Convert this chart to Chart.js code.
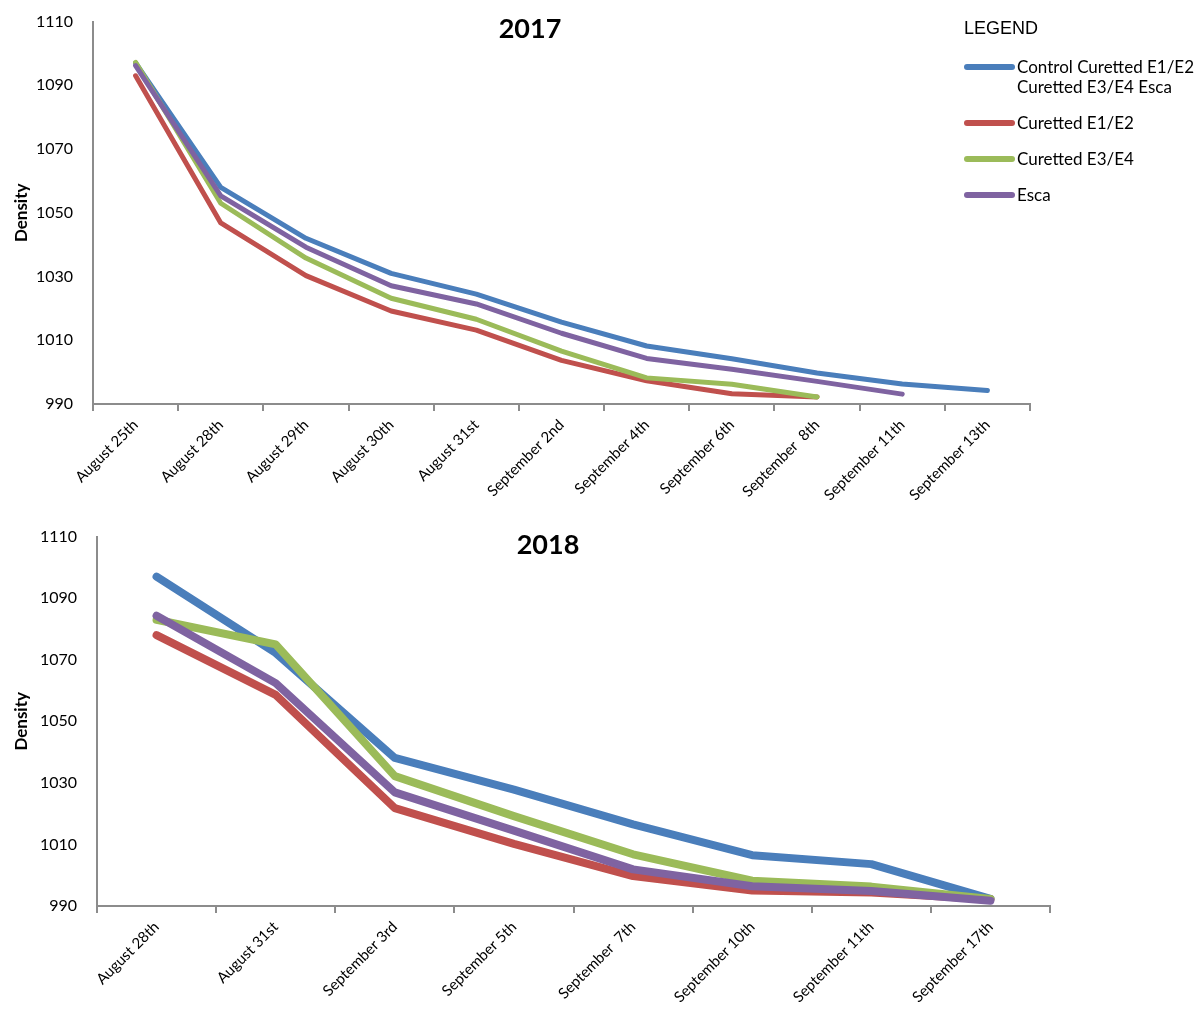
<!DOCTYPE html>
<html>
<head>
<meta charset="utf-8">
<script src="https://cdn.jsdelivr.net/npm/chart.js@4"></script>
<style>
  body { margin: 0; background: #fff; width: 1203px; height: 1012px; position: relative; overflow: hidden; }
  canvas { position: absolute; left: 0; }
  #chart2017 { top: 0; }
  #chart2018 { top: 515px; }
  #legend { position: absolute; left: 964px; top: 18px; font-family: Lato, "Open Sans", sans-serif; font-size: 17px; color: #000; }
  #legend .head { font-family: "Liberation Sans", Arial, sans-serif; font-size: 18px; line-height: 21px; margin-bottom: 18px; }
  #legend .item { display: flex; align-items: flex-start; margin-bottom: 16px; }
  #legend .swatch { width: 51px; height: 6px; border-radius: 3px; margin-top: 7px; margin-right: 2px; flex: none; }
  #legend .txt { line-height: 20px; width: 185px; }
</style>
</head>
<body>
<canvas id="chart2017" width="1050" height="510"></canvas>
<canvas id="chart2018" width="1070" height="497"></canvas>
<div id="legend"></div>
<script>
// categories
const dates2017 = ["August 25th", "August 28th", "August 29th", "August 30th", "August 31st",
    "September 2nd", "September 4th", "September 6th", "September  8th", "September 11th", "September 13th"]
const dates2018 = ["August 28th", "August 31st", "September 3rd", "September 5th", "September  7th",
    "September 10th", "September 11th", "September 17th"]

// series names (legend)
const seriesNames = ["Control Curetted E1/E2 Curetted E3/E4 Esca", "Curetted E1/E2", "Curetted E3/E4", "Esca"]
const seriesColors = ["#4a7ebb", "#c0504d", "#9bbb59", "#7f63a1"]

// 2017 values
const control2017 = [1097, 1058, 1042, 1031, 1024.5, 1015.7, 1008.2, 1004.2, 999.7, 996.3, 994.2]
const cur12_2017 = [1093, 1046.8, 1030.3, 1019.2, 1013.2, 1003.7, 997.3, 993.2, 992.2, null, null]
const cur34_2017 = [1097.2, 1053, 1035.8, 1023.2, 1016.6, 1006.6, 998.2, 996.2, 992.2, null, null]
const esca2017 = [1096.2, 1055.3, 1039.2, 1027.1, 1021.4, 1012.2, 1004.3, 1000.9, 997.1, 993.1, null]

// 2018 values
const control2018 = [1097, 1072.2, 1038.1, 1027.8, 1016.5, 1006.5, 1003.6, 992.3]
const cur12_2018 = [1078, 1058.6, 1021.8, 1010.2, 999.7, 995, 994.4, 992.2]
const cur34_2018 = [1083, 1075, 1032.2, 1019.2, 1006.8, 998.2, 996.3, 992.3]
const esca2018 = [1084.3, 1062.4, 1026.9, 1014.5, 1001.9, 996.4, 994.9, 991.7]

// y axis ticks
const yMin = 990
const yMax = 1110
const yStep = 20

const fontFamily = "Lato, 'Open Sans', sans-serif"

// draws the year title inside the plot area
const yearTitle = {
    id: 'yearTitle',
    afterDraw(chart, args, opts) {
        let ctx = chart.ctx
        ctx.save()
        ctx.font = "bold 27px " + fontFamily
        ctx.fillStyle = "#000"
        ctx.textAlign = "center"
        ctx.textBaseline = "middle"
        ctx.fillText(opts.text, opts.x, opts.y)
        ctx.restore()
    }
}

function make_chart(canvas_id, labels, values, lineWidth, box, title) {
    let canvas = document.querySelector(canvas_id)
    let datasets = values.map(function (vals, i) {
        return {
            label: seriesNames[i],
            data: vals,
            borderColor: seriesColors[i],
            backgroundColor: seriesColors[i],
            borderWidth: lineWidth,
            borderCapStyle: 'round',
            borderJoinStyle: 'round',
            pointRadius: 0,
            tension: 0,
            fill: false,
            order: values.length - i
        }
    })
    const config = {
        type: 'line',
        data: { labels: labels, datasets: datasets },
        plugins: [yearTitle],
        options: {
            responsive: false,
            animation: false,
            layout: { padding: { left: 0, top: box.top, right: canvas.width - box.right, bottom: 0 } },
            plugins: {
                legend: { display: false },
                tooltip: { enabled: false },
                yearTitle: title
            },
            scales: {
                x: {
                    offset: true,
                    grid: { display: true, offset: true, drawOnChartArea: false, tickLength: 7, color: '#8c8c8c', lineWidth: 2 },
                    border: { display: true, color: '#8c8c8c', width: 2 },
                    ticks: { minRotation: 45, maxRotation: 45, autoSkip: false, color: '#000', padding: 5,
                        font: { family: fontFamily, size: 15 } },
                    afterFit(scale) { scale.height = canvas.height - box.bottom }
                },
                y: {
                    min: yMin,
                    max: yMax,
                    grid: { display: false },
                    border: { display: true, color: '#8c8c8c', width: 2 },
                    ticks: { stepSize: yStep, color: '#000', padding: 12, font: { family: fontFamily, size: 16 },
                        callback: function (v) { return String(v) } },
                    title: { display: true, text: 'Density', color: '#000', padding: { top: 11, bottom: 0 },
                        font: { family: fontFamily, size: 17, weight: 'bold' } },
                    afterFit(scale) { scale.width = box.left }
                }
            }
        }
    }
    return new Chart(canvas, config)
}

function build_legend() {
    let legend = document.querySelector("#legend")
    let html = '<div class="head">LEGEND</div>'
    seriesNames.forEach(function (name, i) {
        html += '<div class="item"><div class="swatch" style="background:' + seriesColors[i] + '"></div>' +
            '<div class="txt">' + name + '</div></div>'
    })
    legend.innerHTML = html
}

make_chart("#chart2017", dates2017, [control2017, cur12_2017, cur34_2017, esca2017], 5,
    { left: 93, top: 16, right: 1030, bottom: 404 }, { text: "2017", x: 530, y: 29 })
make_chart("#chart2018", dates2018, [control2018, cur12_2018, cur34_2018, esca2018], 8,
    { left: 97, top: 19, right: 1050, bottom: 391 }, { text: "2018", x: 548, y: 30 })
build_legend()
</script>
</body>
</html>
